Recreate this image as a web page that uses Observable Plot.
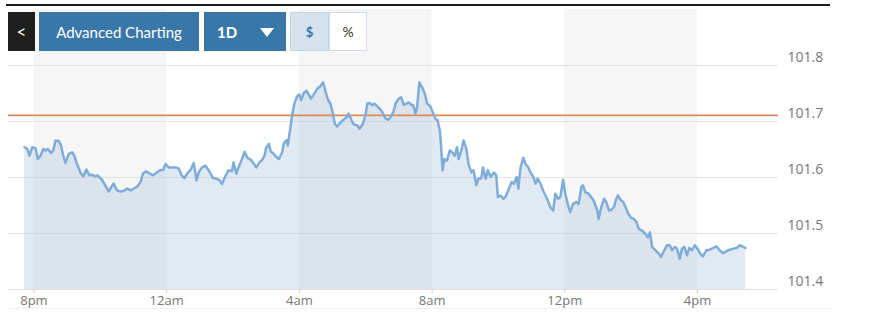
<!DOCTYPE html>
<html>
<head>
<meta charset="utf-8">
<script src="https://cdn.jsdelivr.net/npm/d3@7"></script>
<script src="https://cdn.jsdelivr.net/npm/@observablehq/plot@0.6"></script>
<style>
  html, body { margin: 0; padding: 0; background: #fff; }
  #wrap { position: relative; width: 870px; height: 329px; overflow: hidden; font-family: Lato, "Open Sans", sans-serif; }
  #chart { position: absolute; left: 0; top: 0; }
  .topline { position: absolute; left: 6px; top: 4px; width: 824px; height: 2px; background: #1c1c1c; }
  .botline { position: absolute; left: 8px; top: 308px; width: 824px; height: 1px; background: #f1f1f1; }
  .btn { position: absolute; top: 12px; height: 39px; box-sizing: border-box; display: flex; align-items: center; justify-content: center; }
  .back { left: 8px; width: 27px; background: #1f1f1f; color: #fff; font-size: 17px; }
  .adv { left: 39px; width: 160px; background: #3a77a9; color: #fff; font-size: 15px; }
  .per { left: 204px; width: 82px; background: #3a77a9; color: #fff; font-size: 15px; font-weight: bold; justify-content: flex-start; padding-left: 13px; }
  .tri { position: absolute; left: 56px; top: 16px; width: 0; height: 0; border-left: 7px solid transparent; border-right: 7px solid transparent; border-top: 9px solid #fff; }
  .usd { left: 290px; width: 39px; background: #d6e3ee; border: 1px solid #c3d5e4; color: #3a77a9; font-size: 13px; font-weight: bold; }
  .pct { left: 329px; width: 38px; background: #fff; border: 1px solid #d2dde7; color: #333; font-size: 14px; }
</style>
</head>
<body>
<div id="wrap">
  <div id="chart"></div>
  <div class="topline"></div>
  <div class="botline"></div>
  <div class="btn back">&lt;</div>
  <div class="btn adv">Advanced Charting</div>
  <div class="btn per">1D<span class="tri"></span></div>
  <div class="btn usd">$</div>
  <div class="btn pct">%</div>
</div>
<script>
// Minutes after 8pm (session start) for each sample
const minutes = [-17,-12,-8,-3,3,7,12,17,21,25,31,35,39,45,49,53,57,63,69,73,78,84,89,95,100,105,111,115,123,129,135,140,144,150,156,162,169,175,180,187,193,197,203,209,216,222,228,234,238,244,250,256,262,267,272,277,283,289,294,298,304,310,316,
324,330,336,340,346,352,358,361,366,370,377,381,386,392,398,402,408,413,417,420,425,428,433,437,443,449,452,457,459,463,467,471,476,480,483,488,493,497,501,506,512,518,523,527,531,536,540,544,548,553,557,562,566,569,574,578,585,589,595,600,603,607,612,616,621,625,630,636,641,645,
650,654,660,664,669,674,678,682,686,690,693,697,702,707,711,717,721,726,730,734,736,739,742,747,752,756,761,765,768,773,777,782,786,791,795,800,804,809,812,817,821,826,832,836,839,844,849,853,859,864,868,873,876,880,885,889,894,898,903,907,911,916,922,928,934,939,943,948,952,957,961,966,970,
975,981,985,990,993,997,1003,1010,1012,1019,1021,1026,1031,1035,1040,1044,1049,1052,1056,1061,1066,1070,1075,1080,1085,1090,1094,1100,1106,1110,1114,1118,1124,1130,1134,1140,1145,1150,1154,1159,1163,1168,1172,1176,1181,1185,1190,1195,1200,1205,1210,1216,1222,1228,1234,1240,1246,1252,1258,1265,1271,1276,1283,1287];

// Price values
const prices = [101.654,101.651,101.639,101.654,101.652,101.633,101.639,101.651,101.648,101.651,101.644,101.648,101.666,101.665,101.657,101.639,101.626,101.642,101.645,101.639,101.624,101.609,101.602,101.614,101.604,101.605,101.602,101.604,101.596,101.586,101.575,101.583,101.589,101.577,101.575,101.576,101.580,101.577,101.580,101.584,101.592,101.607,101.611,101.607,101.604,101.609,101.613,101.614,101.624,101.618,101.618,101.618,101.616,101.604,101.599,101.607,101.613,101.626,101.595,101.609,101.618,101.621,101.613,
101.599,101.598,101.595,101.588,101.602,101.613,101.611,101.627,101.607,101.618,101.635,101.646,101.635,101.632,101.624,101.618,101.627,101.632,101.639,101.653,101.660,101.647,101.643,101.638,101.633,101.645,101.661,101.667,101.657,101.684,101.711,101.732,101.745,101.748,101.738,101.751,101.755,101.748,101.741,101.748,101.758,101.763,101.770,101.755,101.741,101.732,101.717,101.696,101.691,101.696,101.701,101.705,101.708,101.714,101.703,101.695,101.693,101.687,101.696,101.714,101.732,101.733,101.729,101.732,101.727,101.723,101.717,101.705,101.703,101.708,
101.717,101.732,101.741,101.743,101.730,101.732,101.734,101.730,101.729,101.714,101.726,101.770,101.761,101.749,101.732,101.727,101.717,101.705,101.702,101.684,101.660,101.613,101.633,101.630,101.648,101.645,101.639,101.654,101.633,101.648,101.666,101.651,101.624,101.609,101.613,101.586,101.598,101.598,101.618,101.598,101.613,101.601,101.609,101.604,101.565,101.568,101.562,101.566,101.580,101.592,101.589,101.601,101.580,101.618,101.635,101.624,101.618,101.609,101.601,101.589,101.598,101.589,101.574,101.562,101.547,101.541,101.571,101.562,101.565,101.596,101.571,101.550,101.538,
101.553,101.556,101.553,101.583,101.586,101.574,101.571,101.562,101.559,101.541,101.526,101.547,101.562,101.556,101.541,101.542,101.547,101.559,101.568,101.560,101.556,101.547,101.535,101.528,101.526,101.520,101.508,101.505,101.499,101.493,101.502,101.476,101.470,101.464,101.458,101.470,101.479,101.479,101.470,101.476,101.473,101.455,101.473,101.476,101.461,101.474,101.470,101.479,101.473,101.464,101.459,101.470,101.471,101.474,101.477,101.470,101.465,101.468,101.471,101.473,101.474,101.479,101.476,101.474];

const prevClose = 101.711;
const xTickMinutes = [0, 240, 480, 720, 960, 1200];
const xTickLabels = ["8pm", "12am", "4am", "8am", "12pm", "4pm"];
const yTicks = [101.4, 101.5, 101.6, 101.7, 101.8];
const shadedStarts = [0, 480, 960];
const bandLength = 240;

const base = new Date(2024, 0, 1, 20, 0, 0);
const toDate = m => new Date(base.getTime() + m * 60000);

const n = Math.min(minutes.length, prices.length);
const data = d3.range(n).map(i => ({date: toDate(minutes[i]), price: prices[i]}));
const bands = shadedStarts.map(s => ({x1: toDate(s), x2: toDate(s + bandLength)}));
const tickDates = xTickMinutes.map(toDate);
const labelFor = d => xTickLabels[tickDates.findIndex(t => +t === +d)];

const yMin = 101.4, yMax = 101.9;

const chart = Plot.plot({
  width: 870,
  height: 329,
  marginLeft: 8,
  marginRight: 92,
  marginTop: 9,
  marginBottom: 40,
  style: {fontFamily: "'Open Sans', sans-serif", color: "#777", background: "transparent"},
  x: {type: "time", domain: [toDate(-46), toDate(1346.5)]},
  y: {domain: [yMin, yMax]},
  marks: [
    Plot.rect(bands, {x1: "x1", x2: "x2", y1: yMin, y2: yMax, fill: "#f6f6f6"}),
    Plot.ruleY(yTicks, {stroke: "#e2e2e2", strokeWidth: 1}),
    Plot.areaY(data, {x: "date", y1: yMin, y2: "price", fill: "#a9c3d9", fillOpacity: 0.35}),
    Plot.ruleY([prevClose], {stroke: "#dc8a55", strokeWidth: 1.6}),
    Plot.lineY(data, {x: "date", y: "price", stroke: "#7eadda", strokeWidth: 2.5, strokeLinejoin: "round"}),
    Plot.axisY(yTicks, {anchor: "right", tickSize: 0, tickPadding: 9, dy: -8, tickFormat: d => d.toFixed(1), fontSize: 14, fill: "#777", label: null}),
    Plot.axisX(tickDates, {anchor: "bottom", tickSize: 4, tickPadding: 2, tickFormat: labelFor, stroke: "#cfcfcf", fill: "#777", fontSize: 13, label: null})
  ]
});
document.getElementById("chart").appendChild(chart);
</script>
</body>
</html>
